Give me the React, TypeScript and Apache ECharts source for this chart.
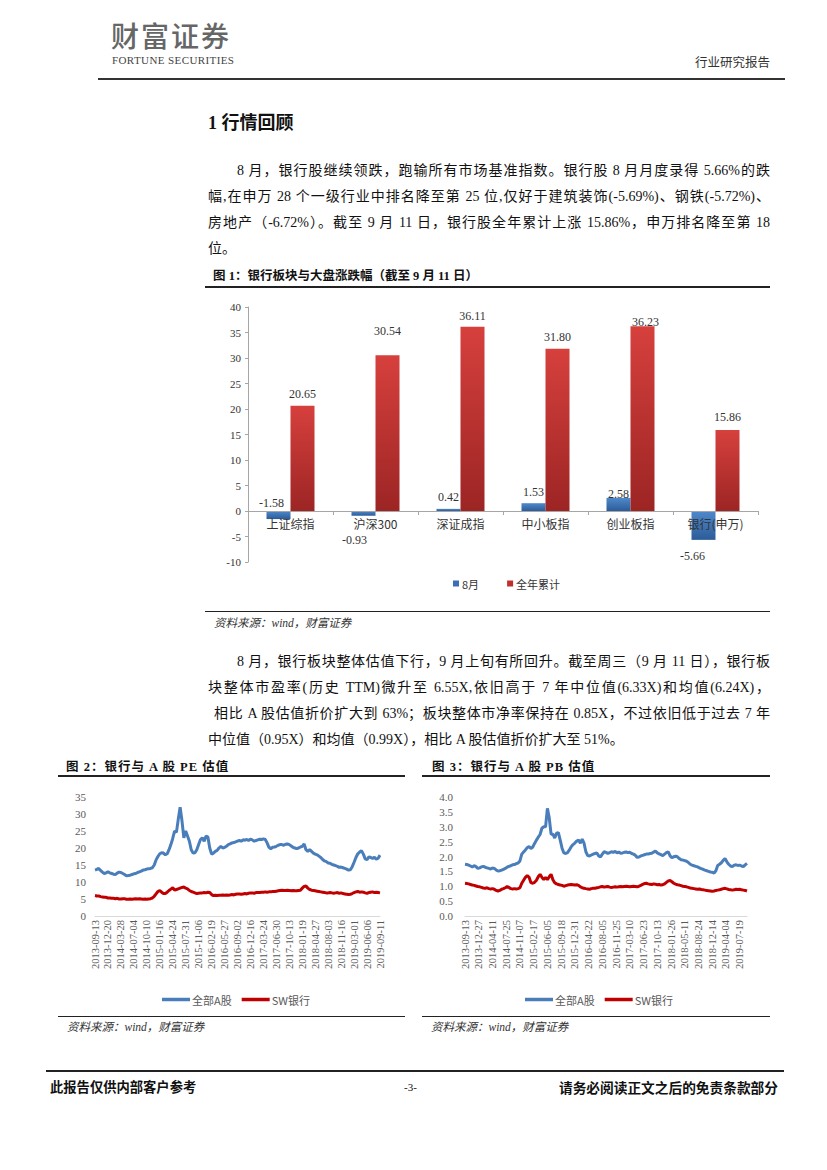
import React, { useEffect, useRef } from "react";
import * as echarts from "echarts";

// ---------- Figure 1 data ----------
const barCategories = ["上证综指", "沪深300", "深证成指", "中小板指", "创业板指", "银行(申万)"];
const augChange = [-1.58, -0.93, 0.42, 1.53, 2.58, -5.66];
const ytdChange = [20.65, 30.54, 36.11, 31.8, 36.23, 15.86];

// ---------- Figure 2 / 3 tick labels (weekly data, 2-week sampling) ----------
const peTickDates = ["2013-09-13", "2013-12-20", "2014-03-28", "2014-07-04", "2014-10-10", "2015-01-16", "2015-04-24", "2015-07-31", "2015-11-06", "2016-02-19", "2016-05-27", "2016-09-02", "2016-12-16", "2017-03-24", "2017-06-30", "2017-10-13", "2018-01-19", "2018-04-27", "2018-08-03", "2018-11-16", "2019-03-01", "2019-06-06", "2019-09-11"];
const pbTickDates = ["2013-09-13", "2013-12-27", "2014-04-11", "2014-07-25", "2014-11-07", "2015-02-17", "2015-06-05", "2015-09-18", "2015-12-31", "2016-04-22", "2016-08-05", "2016-11-25", "2017-03-10", "2017-06-23", "2017-10-13", "2018-01-26", "2018-05-11", "2018-08-24", "2018-12-14", "2019-04-04", "2019-07-19"];

// PE: 全部A股 (every 2nd week)
const peAllA = [
  13.5, 13.7, 14.0, 13.4, 12.9, 12.5, 12.7, 13.0, 12.7, 12.5,
  12.3, 12.2, 12.6, 12.9, 12.8, 12.5, 12.2, 11.8, 11.9, 12.0,
  12.2, 12.4, 12.5, 12.8, 13.0, 13.2, 13.5, 13.6, 13.8, 13.9,
  14.0, 14.2, 15.0, 16.5, 17.5, 18.3, 18.6, 18.5, 18.0, 18.3,
  19.5, 21.0, 22.8, 25.0, 24.6, 28.5, 32.0, 28.0, 23.0, 25.0,
  23.5, 22.0, 19.5, 18.5, 18.6, 19.5, 21.0, 22.5, 23.0, 22.0,
  23.5, 23.2, 20.0, 18.2, 18.5, 19.0, 19.3, 20.0, 20.5, 20.0,
  20.2, 20.5, 21.0, 21.2, 21.5, 21.6, 21.8, 22.0, 22.2, 22.0,
  22.4, 22.3, 22.5, 22.2, 22.6, 22.4, 22.0, 22.2, 22.4, 22.6,
  22.5, 22.7, 22.5, 21.5, 20.2, 19.8, 20.2, 20.3, 20.5, 20.8,
  21.0, 21.0, 20.8, 21.1, 21.2, 21.0, 20.6, 20.2, 20.0, 19.8,
  20.0, 20.3, 20.5, 21.2, 19.5, 19.0, 19.5, 19.0, 18.5, 18.2,
  18.0, 17.6, 17.2, 16.6, 16.2, 16.0, 15.6, 15.5, 15.2, 15.0,
  14.8, 14.6, 14.3, 14.4, 14.2, 14.0, 13.8, 13.5, 13.6, 14.5,
  15.8, 17.2, 18.3, 18.8, 19.2, 18.2, 16.8, 16.6, 17.4, 17.2,
  16.9, 17.3, 16.7, 17.0, 17.9,
];
// PE: SW银行
const peBank = [
  6.0, 5.9, 5.9, 5.7, 5.6, 5.5, 5.5, 5.3, 5.3, 5.2,
  5.2, 5.1, 5.2, 5.0, 5.0, 5.1, 5.1, 4.9, 4.9, 5.0,
  4.9, 5.0, 5.1, 5.0, 5.1, 5.0, 4.9, 5.0, 4.9, 5.0,
  5.1, 5.3, 5.8, 6.5, 7.2, 7.5, 7.0, 6.6, 6.6, 7.0,
  7.5, 7.9, 8.3, 7.6, 7.8, 8.0, 8.2, 8.4, 8.5, 8.2,
  8.0, 7.5, 7.2, 7.0, 6.8, 6.6, 6.7, 6.8, 6.8, 6.9,
  6.8, 7.0, 6.9, 6.3, 6.0, 6.1, 6.0, 6.1, 6.1, 6.2,
  6.1, 6.2, 6.1, 6.2, 6.3, 6.2, 6.4, 6.5, 6.5, 6.4,
  6.5, 6.6, 6.5, 6.7, 6.8, 6.8, 6.7, 6.9, 6.9, 6.9,
  7.0, 7.0, 7.1, 7.0, 7.1, 7.1, 7.2, 7.2, 7.3, 7.4,
  7.5, 7.6, 7.5, 7.5, 7.6, 7.5, 7.4, 7.5, 7.4, 7.4,
  7.5, 7.6, 8.2, 8.7, 8.8, 8.2, 7.8, 7.6, 7.5, 7.4,
  7.3, 7.2, 7.1, 7.0, 6.9, 6.8, 6.8, 6.9, 6.8, 6.7,
  6.8, 6.9, 6.7, 6.8, 6.6, 6.5, 6.4, 6.3, 6.4, 6.6,
  6.9, 7.1, 7.2, 7.0, 7.1, 7.0, 6.8, 6.7, 6.9, 7.0,
  7.1, 6.9, 7.0, 6.9, 6.8,
];
// PB: 全部A股
const pbAllA = [
  1.74, 1.73, 1.71, 1.68, 1.65, 1.69, 1.66, 1.60, 1.62, 1.65,
  1.67, 1.64, 1.62, 1.60, 1.58, 1.61, 1.60, 1.55, 1.51, 1.52,
  1.54, 1.57, 1.60, 1.64, 1.67, 1.69, 1.72, 1.73, 1.76, 1.78,
  1.85, 2.08, 2.15, 2.22, 2.30, 2.33, 2.27, 2.32, 2.44, 2.55,
  2.65, 2.74, 2.95, 3.00, 3.00, 3.62, 3.30, 2.75, 2.75, 2.62,
  2.78, 2.80, 2.55, 2.28, 2.12, 2.10, 2.13, 2.22, 2.33, 2.40,
  2.45, 2.52, 2.55, 2.45, 2.58, 2.45, 2.16, 2.03, 2.02, 2.05,
  2.08, 2.10, 2.12, 2.02, 1.99, 2.08, 2.16, 2.14, 2.10, 2.13,
  2.16, 2.14, 2.17, 2.12, 2.15, 2.11, 2.12, 2.14, 2.15, 2.13,
  2.14, 2.10, 2.08, 2.04, 1.97, 1.98, 2.02, 2.04, 2.06, 2.08,
  2.08, 2.10, 2.11, 2.15, 2.18, 2.12, 2.09, 2.06, 2.03, 2.08,
  2.13, 2.16, 2.02, 1.96, 1.99, 2.01, 1.99, 1.93, 1.89, 1.88,
  1.86, 1.84, 1.80, 1.74, 1.71, 1.69, 1.67, 1.65, 1.62, 1.59,
  1.57, 1.54, 1.52, 1.50, 1.48, 1.47, 1.44, 1.52, 1.70, 1.74,
  1.79, 1.87, 1.93, 1.82, 1.74, 1.68, 1.66, 1.71, 1.72, 1.70,
  1.71, 1.68, 1.66, 1.72, 1.77,
];
// PB: SW银行
const pbBank = [
  1.10, 1.09, 1.08, 1.06, 1.04, 1.03, 1.01, 0.99, 0.98, 0.96,
  0.94, 0.93, 0.95, 0.92, 0.91, 0.92, 0.90, 0.86, 0.84, 0.86,
  0.90, 0.92, 0.95, 0.99, 0.96, 0.92, 0.91, 0.92, 0.91, 0.92,
  0.95, 1.10, 1.20, 1.30, 1.36, 1.30, 1.12, 1.10, 1.13, 1.20,
  1.32, 1.40, 1.30, 1.22, 1.30, 1.22, 1.32, 1.40, 1.22, 1.12,
  1.08, 1.06, 1.04, 1.03, 1.00, 1.02, 1.04, 1.05, 1.06, 1.05,
  1.04, 1.05, 1.03, 0.98, 0.95, 0.93, 0.92, 0.91, 0.90, 0.92,
  0.93, 0.93, 0.95, 0.96, 0.98, 0.99, 0.97, 0.98, 0.99, 0.97,
  0.96, 0.97, 0.98, 0.97, 0.98, 0.99, 0.98, 0.99, 1.00, 0.99,
  0.98, 0.99, 1.00, 0.99, 0.98, 1.00, 1.03, 1.06, 1.09, 1.10,
  1.08, 1.07, 1.06, 1.08, 1.07, 1.05, 1.06, 1.04, 1.05, 1.08,
  1.13, 1.18, 1.19, 1.15, 1.10, 1.07, 1.05, 1.04, 1.02, 1.00,
  0.99, 0.98, 0.96, 0.94, 0.93, 0.92, 0.91, 0.90, 0.91, 0.89,
  0.88, 0.87, 0.86, 0.85, 0.84, 0.83, 0.84, 0.86, 0.87, 0.88,
  0.90, 0.92, 0.93, 0.91, 0.89, 0.88, 0.87, 0.88, 0.90, 0.89,
  0.90, 0.88, 0.87, 0.86, 0.84,
];

const WEEK_STEP = 2;

// ---------- styles ----------
const SERIF = '"Liberation Serif", "Noto Sans CJK SC", serif';
const CJK = '"Noto Sans CJK SC", "Liberation Sans", sans-serif';
const BLUE = "#4a7ebb";
const RED = "#c00000";

function EChart({ left, top, width, height, option }: any) {
  const ref = useRef<HTMLDivElement>(null);
  useEffect(() => {
    const chart = echarts.init(ref.current as HTMLDivElement, null, { renderer: "svg" });
    chart.setOption(option);
    return () => chart.dispose();
  }, []);
  return <div ref={ref} style={{ position: "absolute", left, top, width, height }} />;
}

function T({ x, y, size = 14, bold = false, italic = false, color = "#111", family = SERIF, w, justify = false, spacing = 0, align, weight, children }: any) {
  const lh = Math.round(size * 1.5);
  const style: any = {
    position: "absolute",
    left: x,
    top: y - lh / 2,
    fontSize: size,
    lineHeight: lh + "px",
    fontWeight: weight ? weight : bold ? 700 : 400,
    fontStyle: italic ? "italic" : "normal",
    color,
    fontFamily: family,
    letterSpacing: spacing,
    whiteSpace: justify ? "normal" : "nowrap",
  };
  if (w) style.width = w;
  if (justify) {
    style.textAlign = "justify";
    style.textAlignLast = "justify";
  }
  if (align) style.textAlign = align;
  return <div style={style}>{children}</div>;
}

function Rule({ x1, x2, y, h = 1, color = "#111" }: any) {
  return <div style={{ position: "absolute", left: x1, top: y - h / 2, width: x2 - x1, height: h, background: color }} />;
}

const blueGrad = () => new echarts.graphic.LinearGradient(0, 0, 0, 1, [
  { offset: 0, color: "#4f89cc" },
  { offset: 1, color: "#2c5c98" },
]);
const redGrad = () => new echarts.graphic.LinearGradient(0, 0, 0, 1, [
  { offset: 0, color: "#d6403d" },
  { offset: 1, color: "#9c2524" },
]);

const augLabelPlacement = [
  { position: "top", distance: 2, offset: [-7, 0] },
  { position: "bottom", distance: 18, offset: [-9, 0] },
  { position: "top", distance: 6 },
  { position: "top", distance: 5 },
  { position: "top", distance: 0, offset: [0, 2] },
  { position: "bottom", distance: 10, offset: [-11, 0] },
];
const ytdLabelPlacement = [
  { position: "top", distance: 6 },
  { position: "top", distance: 18 },
  { position: "top", distance: 5 },
  { position: "top", distance: 6 },
  { position: "top", distance: 0, offset: [3, 2] },
  { position: "top", distance: 7 },
];

const fmt2 = (p: any) => Number(p.value).toFixed(2);

const BAR_Y_MIN = -10;
const BAR_Y_MAX = 40;
const BAR_GRID_H = 255;
// pixel distance from the grid bottom up to the zero line
const zeroLift = (0 - BAR_Y_MIN) / (BAR_Y_MAX - BAR_Y_MIN) * BAR_GRID_H;

const barOption = {
  animation: false,
  grid: { left: 43, top: 12, width: 510, height: BAR_GRID_H },
  legend: {
    left: 243,
    top: 278,
    icon: "rect",
    itemWidth: 6,
    itemHeight: 6,
    itemGap: 28,
    textStyle: { fontSize: 11, color: "#333", fontFamily: CJK, padding: [0, 0, 0, -2] },
    data: [
      { name: "8月", itemStyle: { color: "#3b6fb3" } },
      { name: "全年累计", itemStyle: { color: "#c0302e" } },
    ],
  },
  xAxis: {
    type: "category",
    data: barCategories,
    offset: -zeroLift,
    z: 5,
    axisLine: { onZero: false, lineStyle: { color: "#a6a6a6" } },
    axisTick: { show: true, length: 4, lineStyle: { color: "#a6a6a6" } },
    axisLabel: { fontSize: 12, color: "#333", fontFamily: CJK, margin: 6 },
  },
  yAxis: {
    type: "value",
    min: BAR_Y_MIN,
    max: BAR_Y_MAX,
    interval: 5,
    axisLine: { show: true, lineStyle: { color: "#a6a6a6" } },
    axisTick: { show: true, length: 3, lineStyle: { color: "#a6a6a6" } },
    splitLine: { show: false },
    axisLabel: { fontSize: 11, color: "#333", fontFamily: SERIF, margin: 7 },
  },
  series: [
    {
      name: "8月",
      type: "bar",
      barWidth: 24,
      barGap: "0%",
      itemStyle: { color: blueGrad() },
      label: { show: true, formatter: fmt2, fontSize: 12, color: "#333", fontFamily: SERIF },
      data: augChange.map((v, i) => ({ value: v, label: augLabelPlacement[i] })),
    },
    {
      name: "全年累计",
      type: "bar",
      barWidth: 24,
      itemStyle: { color: redGrad() },
      label: { show: true, formatter: fmt2, fontSize: 12, color: "#333", fontFamily: SERIF },
      data: ytdChange.map((v, i) => ({ value: v, label: ytdLabelPlacement[i] })),
    },
  ],
};

function lineOption(opts: any) {
  const { gridLeft, gridWidth, yMax, yInterval, yDigits, yMargin, tickDates, tickEvery, legendLeft, s1, s2 } = opts;
  const maxIdx = (s1.length - 1) * WEEK_STEP;
  return {
    animation: false,
    grid: { left: gridLeft, top: 15, width: gridWidth, height: 119 },
    legend: {
      left: legendLeft,
      top: 207,
      icon: "rect",
      itemWidth: 28,
      itemHeight: 3.5,
      itemGap: 10,
      textStyle: { fontSize: 11, color: "#595959", fontFamily: CJK, padding: [0, 0, 0, -3] },
      data: [
        { name: "全部A股", itemStyle: { color: BLUE } },
        { name: "SW银行", itemStyle: { color: RED } },
      ],
    },
    xAxis: {
      type: "value",
      min: 0,
      max: maxIdx,
      interval: tickEvery,
      axisLine: { show: true, onZero: true, lineStyle: { color: "#d9d9d9", width: 1 } },
      axisTick: { show: false },
      splitLine: { show: false },
      axisLabel: {
        rotate: 90,
        fontSize: 10.5,
        color: "#595959",
        fontFamily: SERIF,
        margin: 4,
        formatter: (v: number) => (v % tickEvery === 0 && tickDates[v / tickEvery] ? tickDates[v / tickEvery] : ""),
      },
    },
    yAxis: {
      type: "value",
      min: 0,
      max: yMax,
      interval: yInterval,
      axisLine: { show: false },
      axisTick: { show: false },
      splitLine: { show: false },
      axisLabel: {
        fontSize: 11,
        color: "#595959",
        fontFamily: SERIF,
        margin: yMargin,
        formatter: (v: number) => v.toFixed(yDigits),
      },
    },
    series: [
      {
        name: "全部A股",
        type: "line",
        symbol: "none",
        lineStyle: { width: 3, color: BLUE },
        itemStyle: { color: BLUE },
        data: s1.map((v: number, k: number) => [k * WEEK_STEP, v]),
      },
      {
        name: "SW银行",
        type: "line",
        symbol: "none",
        lineStyle: { width: 3, color: RED },
        itemStyle: { color: RED },
        data: s2.map((v: number, k: number) => [k * WEEK_STEP, v]),
      },
    ],
  };
}

const peOption = lineOption({
  gridLeft: 37, gridWidth: 285, yMax: 35, yInterval: 5, yDigits: 0, yMargin: 9,
  tickDates: peTickDates, tickEvery: 14, legendLeft: 99, s1: peAllA, s2: peBank,
});
const pbOption = lineOption({
  gridLeft: 43, gridWidth: 282, yMax: 4, yInterval: 0.5, yDigits: 1, yMargin: 12,
  tickDates: pbTickDates, tickEvery: 15, legendLeft: 98, s1: pbAllA, s2: pbBank,
});

const para1 = [
  "8 月，银行股继续领跌，跑输所有市场基准指数。银行股 8 月月度录得 5.66%的跌",
  "幅,在申万 28 个一级行业中排名降至第 25 位,仅好于建筑装饰(-5.69%)、钢铁(-5.72%)、",
  "房地产（-6.72%）。截至 9 月 11 日，银行股全年累计上涨 15.86%，申万排名降至第 18",
  "位。",
];
const para2 = [
  "8 月，银行板块整体估值下行，9 月上旬有所回升。截至周三（9 月 11 日），银行板",
  "块整体市盈率(历史 TTM)微升至 6.55X,依旧高于 7 年中位值(6.33X)和均值(6.24X)，",
  "相比 A 股估值折价扩大到 63%；板块整体市净率保持在 0.85X，不过依旧低于过去 7 年",
  "中位值（0.95X）和均值（0.99X），相比 A 股估值折价扩大至 51%。",
];

export default function App() {
  return (
    <div style={{ position: "absolute", left: 0, top: 0, width: 827, height: 1170, background: "#fff", overflow: "hidden" }}>
      {/* header */}
      <T x={111} y={35} size={28} color="#666" family={CJK} spacing={2} weight={500}>财富证券</T>
      <T x={112} y={60} size={11} color="#444" family={SERIF} spacing={0.4}>FORTUNE SECURITIES</T>
      <T x={695} y={61} size={12.5} color="#333" family={CJK}>行业研究报告</T>
      <Rule x1={98} x2={785} y={79} h={1.5} color="#333" />

      {/* section title */}
      <T x={208} y={123} size={18} bold family={SERIF}>1 行情回顾</T>

      {/* paragraph 1 */}
      <T x={237} y={170} w={533} justify>{para1[0]}</T>
      <T x={208} y={196} w={562} justify>{para1[1]}</T>
      <T x={208} y={222} w={562} justify>{para1[2]}</T>
      <T x={208} y={248}>{para1[3]}</T>

      {/* figure 1 */}
      <T x={213} y={276} size={12.5} bold family={SERIF}>图 1：银行板块与大盘涨跌幅（截至 9 月 11 日）</T>
      <Rule x1={205} x2={770} y={287} h={1.5} color="#222" />
      <EChart left={205} top={295} width={565} height={300} option={barOption} />
      <Rule x1={205} x2={770} y={611} h={1} color="#222" />
      <T x={214} y={623} size={11.5} italic color="#333" family={SERIF}>资料来源：wind，财富证券</T>

      {/* paragraph 2 */}
      <T x={237} y={661} w={533} justify>{para2[0]}</T>
      <T x={208} y={687} w={562} justify>{para2[1]}</T>
      <T x={214} y={713} w={556} justify>{para2[2]}</T>
      <T x={208} y={739}>{para2[3]}</T>

      {/* figure 2 */}
      <T x={66} y={767} size={12.5} bold family={SERIF} spacing={1}>图 2：银行与 A 股 PE 估值</T>
      <Rule x1={58} x2={405} y={776} h={1.5} color="#222" />
      <EChart left={58} top={782} width={350} height={232} option={peOption} />
      <Rule x1={58} x2={405} y={1016} h={1} color="#222" />
      <T x={67} y={1027} size={11.5} italic color="#333" family={SERIF}>资料来源：wind，财富证券</T>

      {/* figure 3 */}
      <T x={432} y={767} size={12.5} bold family={SERIF} spacing={1}>图 3：银行与 A 股 PB 估值</T>
      <Rule x1={422} x2={770} y={776} h={1.5} color="#222" />
      <EChart left={422} top={782} width={350} height={232} option={pbOption} />
      <Rule x1={422} x2={770} y={1016} h={1} color="#222" />
      <T x={431} y={1027} size={11.5} italic color="#333" family={SERIF}>资料来源：wind，财富证券</T>

      {/* footer */}
      <Rule x1={46} x2={784} y={1071} h={2} color="#222" />
      <T x={50} y={1087} size={13.3} bold family={CJK}>此报告仅供内部客户参考</T>
      <T x={404} y={1087} size={11} family={SERIF}>-3-</T>
      <div style={{ position: "absolute", left: 480, width: 298, top: 1087 - 10, lineHeight: "20px", fontSize: 13.7, fontWeight: 700, fontFamily: CJK, textAlign: "right", color: "#111" }}>请务必阅读正文之后的免责条款部分</div>
    </div>
  );
}
